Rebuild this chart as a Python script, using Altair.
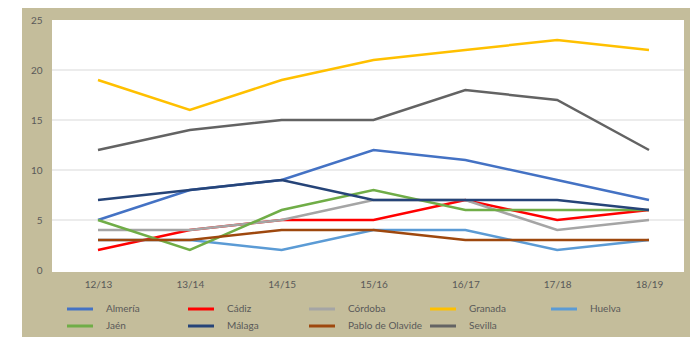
import altair as alt
import pandas as pd

seasons = ["12/13", "13/14", "14/15", "15/16", "16/17", "17/18", "18/19"]
universities = ["Almería", "Cádiz", "Córdoba", "Granada", "Huelva", "Jaén",
                "Málaga", "Pablo de Olavide", "Sevilla"]
colors = ["#4472C4", "#FF0000", "#A5A5A5", "#FFC000", "#5B9BD5", "#70AD47",
          "#264478", "#9E480E", "#636363"]

almeria = [5, 8, 9, 12, 11, 9, 7]
cadiz = [2, 4, 5, 5, 7, 5, 6]
cordoba = [4, 4, 5, 7, 7, 4, 5]
granada = [19, 16, 19, 21, 22, 23, 22]
huelva = [3, 3, 2, 4, 4, 2, 3]
jaen = [5, 2, 6, 8, 6, 6, 6]
malaga = [7, 8, 9, 7, 7, 7, 6]
olavide = [3, 3, 4, 4, 3, 3, 3]
sevilla = [12, 14, 15, 15, 18, 17, 12]

y_ticks = [0, 5, 10, 15, 20, 25]
grid_values = [5, 10, 15, 20]

series = [almeria, cadiz, cordoba, granada, huelva, jaen, malaga, olavide, sevilla]
rows = []
for name, vals in zip(universities, series):
    for s, v in zip(seasons, vals):
        rows.append({"season": s, "university": name, "value": v})
df = pd.DataFrame(rows)
grid_df = pd.DataFrame({"value": grid_values})

W, H = 632, 250
TAN = "#c4bd9b"
FONT = "Lato"

one = alt.Data(values=[{"a": 1}])

bg = alt.Chart(one).mark_rect(color=TAN).encode(
    x=alt.value(-30), x2=alt.value(638), y=alt.value(-12), y2=alt.value(317)
)
white = alt.Chart(one).mark_rect(color="white").encode(
    x=alt.value(0), x2=alt.value(W), y=alt.value(0), y2=alt.value(H + 2)
)

yscale = alt.Scale(domain=[0, 25], nice=False)
yaxis = alt.Axis(title=None, values=y_ticks, domain=False, ticks=False,
                 tickSize=0, grid=False, labelPadding=10, labelFontSize=10,
                 labelColor="#595959", labelFont=FONT, zindex=1)

grid = alt.Chart(grid_df).mark_rule(color="#d9d9d9", strokeWidth=1).encode(
    y=alt.Y("value:Q", scale=yscale, axis=yaxis)
)

lines = alt.Chart(df).mark_line(strokeWidth=2.5).encode(
    x=alt.X("season:N", sort=seasons,
            scale=alt.Scale(type="point", padding=0, range=[46, 597]),
            axis=alt.Axis(title=None, labelAngle=0, domain=False, ticks=False,
                          grid=False, labelPadding=9, labelFontSize=10,
                          labelColor="#595959", labelFont=FONT, zindex=1)),
    y=alt.Y("value:Q", scale=yscale, axis=yaxis),
    color=alt.Color("university:N",
                    scale=alt.Scale(domain=universities, range=colors),
                    legend=alt.Legend(title=None, orient="none", legendX=20, legendY=281,
                                      direction="horizontal",
                                      columns=5, symbolType="M-2,0H2", symbolSize=169,
                                      symbolStrokeWidth=3, labelOffset=18,
                                      labelFontSize=10, labelColor="#595959",
                                      labelFont=FONT, rowPadding=3, columnPadding=1,
                                      gridAlign="all", padding=0, zindex=1)),
    order=alt.Order("university:N"),
)

chart = alt.layer(bg, white, grid, lines).properties(
    width=W, height=H, padding={"left": 14, "top": 0, "right": 0, "bottom": 0}
).configure_view(stroke=None)

chart.save("out.html", embed_options={"renderer": "svg", "actions": False})
